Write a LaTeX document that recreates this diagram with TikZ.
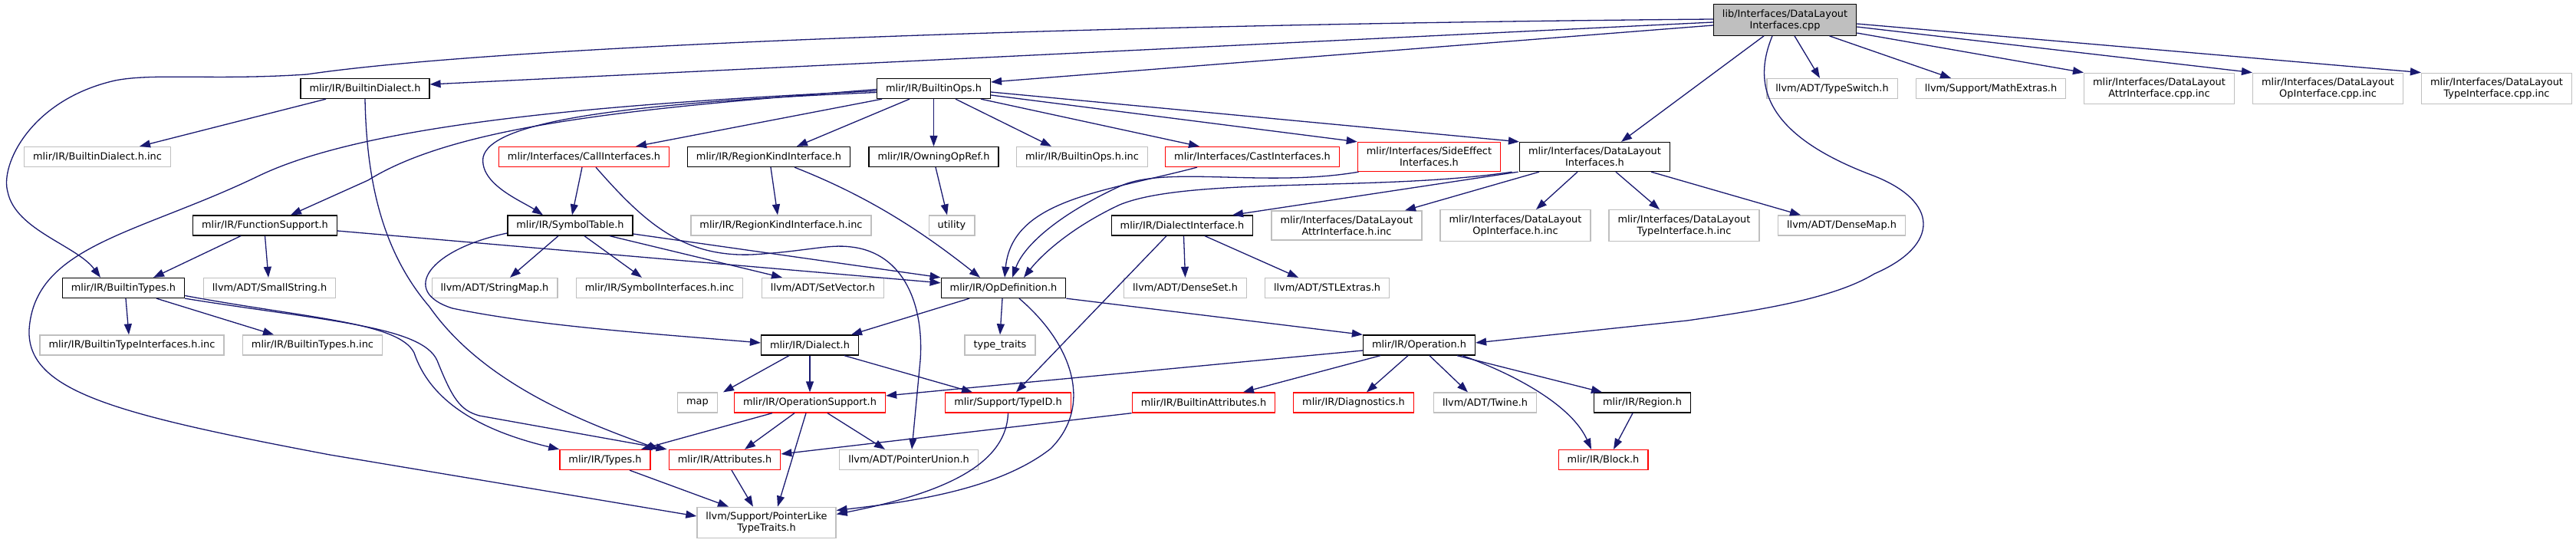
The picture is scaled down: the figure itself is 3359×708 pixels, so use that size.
\documentclass[tikz,border=0pt]{standalone}
\usepackage{fontspec}
\setmainfont{DejaVu Sans}
\usepackage{xcolor}
\usepackage{tikz}
\usetikzlibrary{calc, arrows.meta, positioning}
\definecolor{edgeblue}{HTML}{191970}
\definecolor{greyline}{HTML}{BFBFBF}
\tikzset{
  hfile/.style={rectangle,draw=black,fill=white,line width=1.3pt,inner xsep=11.5pt,inner ysep=6.5pt,minimum height=26pt,align=center,font=\fontsize{12.9}{15}\selectfont},
  extfile/.style={hfile,draw=greyline},
  cutfile/.style={hfile,draw=red},
  rootfile/.style={hfile,fill=greyline},
  incarrow/.style={-{Triangle[length=14pt,width=10pt]}, line width=1.3pt, color=edgeblue}
}

\begin{document}
\begin{tikzpicture}[x=1pt,y=-1pt]
  \useasboundingbox (0,0) rectangle (3359,708);
  % files
  \node[rootfile] (root) at (2327.5,26) {lib/Interfaces/DataLayout\\Interfaces.cpp};
  \node[hfile] (bdialect) at (476,115.5) {mlir/IR/BuiltinDialect.h};
  \node[hfile] (bops) at (1217.5,115.5) {mlir/IR/BuiltinOps.h};
  \node[extfile] (typeswitch) at (2389,115.5) {llvm/ADT/TypeSwitch.h};
  \node[extfile] (mathextras) at (2596,115.5) {llvm/Support/MathExtras.h};
  \node[extfile] (attrcppinc) at (2815.5,115.5) {mlir/Interfaces/DataLayout\\AttrInterface.cpp.inc};
  \node[extfile] (opcppinc) at (3035.5,115.5) {mlir/Interfaces/DataLayout\\OpInterface.cpp.inc};
  \node[extfile] (typecppinc) at (3255.5,115.5) {mlir/Interfaces/DataLayout\\TypeInterface.cpp.inc};

  \node[extfile] (bdialectinc) at (127,204.5) {mlir/IR/BuiltinDialect.h.inc};
  \node[cutfile] (callif) at (761.5,204.5) {mlir/Interfaces/CallInterfaces.h};
  \node[hfile] (regionkind) at (1002.5,204.5) {mlir/IR/RegionKindInterface.h};
  \node[hfile] (owningop) at (1217.5,204.5) {mlir/IR/OwningOpRef.h};
  \node[extfile] (bopsinc) at (1411,204.5) {mlir/IR/BuiltinOps.h.inc};
  \node[cutfile] (castif) at (1633,204.5) {mlir/Interfaces/CastInterfaces.h};
  \node[cutfile] (sideeff) at (1863.5,204.5) {mlir/Interfaces/SideEffect\\Interfaces.h};
  \node[hfile] (dlif) at (2079.5,204.5) {mlir/Interfaces/DataLayout\\Interfaces.h};

  \node[hfile] (funcsup) at (345.5,294) {mlir/IR/FunctionSupport.h};
  \node[hfile] (symtab) at (743.5,294) {mlir/IR/SymbolTable.h};
  \node[extfile] (regionkindinc) at (1018.5,294) {mlir/IR/RegionKindInterface.h.inc};
  \node[extfile] (utility) at (1241,294) {utility};
  \node[hfile] (dialectif) at (1541.5,294) {mlir/IR/DialectInterface.h};
  \node[extfile] (attrhinc) at (1756,294) {mlir/Interfaces/DataLayout\\AttrInterface.h.inc};
  \node[extfile] (ophinc) at (1976,294) {mlir/Interfaces/DataLayout\\OpInterface.h.inc};
  \node[extfile] (typehinc) at (2196,294) {mlir/Interfaces/DataLayout\\TypeInterface.h.inc};
  \node[extfile] (densemap) at (2401.5,294) {llvm/ADT/DenseMap.h};

  \node[hfile] (btypes) at (161,375.5) {mlir/IR/BuiltinTypes.h};
  \node[extfile] (smallstr) at (351.5,375.5) {llvm/ADT/SmallString.h};
  \node[extfile] (stringmap) at (645,375.5) {llvm/ADT/StringMap.h};
  \node[extfile] (syminc) at (860,375.5) {mlir/IR/SymbolInterfaces.h.inc};
  \node[extfile] (setvector) at (1073,375.5) {llvm/ADT/SetVector.h};
  \node[hfile] (opdef) at (1308.5,375.5) {mlir/IR/OpDefinition.h};
  \node[extfile] (denseset) at (1545.5,375.5) {llvm/ADT/DenseSet.h};
  \node[extfile] (stlextras) at (1730.5,375.5) {llvm/ADT/STLExtras.h};

  \node[extfile] (btypeifinc) at (172,450) {mlir/IR/BuiltinTypeInterfaces.h.inc};
  \node[extfile] (btypesinc) at (407.5,450) {mlir/IR/BuiltinTypes.h.inc};
  \node[hfile] (dialect) at (1056,450) {mlir/IR/Dialect.h};
  \node[extfile] (typetraits) at (1304,450) {type\_traits};
  \node[hfile] (operation) at (1850.5,450) {mlir/IR/Operation.h};

  \node[extfile] (map) at (909.5,525) {map};
  \node[cutfile] (opsupport) at (1056,525) {mlir/IR/OperationSupport.h};
  \node[cutfile] (typeid) at (1314.5,525) {mlir/Support/TypeID.h};
  \node[cutfile] (battrs) at (1569.5,525) {mlir/IR/BuiltinAttributes.h};
  \node[cutfile] (diag) at (1765,525) {mlir/IR/Diagnostics.h};
  \node[extfile] (twine) at (1936.5,525) {llvm/ADT/Twine.h};
  \node[hfile] (region) at (2141.5,525) {mlir/IR/Region.h};

  \node[cutfile] (types) at (789,599.5) {mlir/IR/Types.h};
  \node[cutfile] (attrs) at (945,599.5) {mlir/IR/Attributes.h};
  \node[extfile] (ptrunion) at (1185,599.5) {llvm/ADT/PointerUnion.h};
  \node[cutfile] (block) at (2090.5,599.5) {mlir/IR/Block.h};

  \node[extfile] (ptrlike) at (999.5,681.5) {llvm/Support/PointerLike\\TypeTraits.h};

  % includes of the .cpp
  \draw[incarrow] ([yshift=1]root.west) .. controls (1400,32) and (650,60) .. (400,97) .. controls (280,105) and (200,95) .. (150,105) .. controls (40,130) and (0,215) .. (10,250) .. controls (20,300) and (100,320) .. ([xshift=-30]btypes.north);
  \draw[incarrow] ([yshift=-3]root.west) -- ([yshift=5.5]bdialect.east);
  \draw[incarrow] ([yshift=-7]root.west) -- ([yshift=8.5]bops.east);
  \draw[incarrow] ([xshift=-27.5]root.south) -- ([xshift=34.5]dlif.north);
  \draw[incarrow] ([xshift=-16.5]root.south) .. controls (2285,110) and (2300,175) .. (2440,228) .. controls (2530,262) and (2530,320) .. (2444,357) .. controls (2390,390) and (2290,405) .. (2200,418) -- ([yshift=3]operation.east);
  \draw[incarrow] ([xshift=12.5]root.south) -- ([xshift=-16]typeswitch.north);
  \draw[incarrow] ([xshift=58]root.south) -- ([xshift=-52]mathextras.north);
  \draw[incarrow] ([yshift=-17]root.east) -- (attrcppinc.north west);
  \draw[incarrow] ([yshift=-9]root.east) -- (opcppinc.north west);
  \draw[incarrow] ([yshift=-5]root.east) -- (typecppinc.north west);

  % BuiltinDialect.h
  \draw[incarrow] ([xshift=-51]bdialect.south) -- ([xshift=55]bdialectinc.north);
  \draw[incarrow] (bdialect.south) .. controls (478,240) and (500,330) .. (560,400) .. controls (630,500) and (760,550) .. ([xshift=-12]attrs.north west);

  % BuiltinOps.h
  \draw[incarrow] ([yshift=-1]bops.west) .. controls (850,140) and (600,160) .. (480,235) -- ([xshift=33.5]funcsup.north);
  \draw[incarrow] ([yshift=-3]bops.west) .. controls (800,135) and (480,160) .. (336,230) .. controls (180,305) and (45,320) .. (38,430) .. controls (35,510) and (150,540) .. (430,593) -- ([yshift=8.5]ptrlike.west);
  \draw[incarrow] ([yshift=-5]bops.west) .. controls (800,135) and (640,160) .. (630,205) .. controls (625,240) and (680,262) .. ([xshift=-35.5]symtab.north);
  \draw[incarrow] ([xshift=-67.5]bops.south) -- ([xshift=67.5]callif.north);
  \draw[incarrow] ([xshift=-31.5]bops.south) -- ([xshift=36.5]regionkind.north);
  \draw[incarrow] (bops.south) -- (owningop.north);
  \draw[incarrow] ([xshift=28.5]bops.south) -- ([xshift=-40]bopsinc.north);
  \draw[incarrow] ([xshift=61.5]bops.south) -- ([xshift=-69]castif.north);
  \draw[incarrow] ([yshift=-8.5]bops.east) -- (sideeff.north west);
  \draw[incarrow] ([yshift=-4.5]bops.east) -- (dlif.north west);

  % interfaces
  \draw[incarrow] ([xshift=-2.5]callif.south) -- ([xshift=2.5]symtab.north);
  \draw[incarrow] ([xshift=15.5]callif.south) .. controls (840,290) and (890,335) .. (980,332) .. controls (1050,328) and (1080,318) .. (1110,322) .. controls (1180,330) and (1205,400) .. (1200,470) -- ([xshift=4]ptrunion.north);
  \draw[incarrow] ([xshift=2.5]regionkind.south) -- ([xshift=-4.5]regionkindinc.north);
  \draw[incarrow] ([xshift=33.5]regionkind.south) .. controls (1130,255) and (1200,300) .. ([xshift=-30.5]opdef.north);
  \draw[incarrow] ([xshift=2.5]owningop.south) -- ([xshift=-6]utility.north);
  \draw[incarrow] ([xshift=-72]castif.south) .. controls (1440,250) and (1320,260) .. ([xshift=1.5]opdef.north);
  \draw[incarrow] ([xshift=-92]sideeff.south) .. controls (1650,245) and (1520,215) .. (1460,243) .. controls (1380,280) and (1335,320) .. ([xshift=11.5]opdef.north);
  \draw[incarrow] ([xshift=-108]dlif.south) .. controls (1800,250) and (1550,230) .. (1460,267) .. controls (1400,295) and (1360,330) .. ([xshift=26.5]opdef.north);
  \draw[incarrow] ([xshift=-100]dlif.south) -- ([xshift=65.5]dialectif.north);
  \draw[incarrow] ([xshift=-72.5]dlif.south) -- ([xshift=76]attrhinc.north);
  \draw[incarrow] ([xshift=-22.5]dlif.south) -- ([xshift=27]ophinc.north);
  \draw[incarrow] ([xshift=27.5]dlif.south) -- ([xshift=-32]typehinc.north);
  \draw[incarrow] ([xshift=73.5]dlif.south) -- ([xshift=-53.5]densemap.north);

  % FunctionSupport.h, SymbolTable.h
  \draw[incarrow] ([xshift=-31.5]funcsup.south) -- ([xshift=39]btypes.north);
  \draw[incarrow] (funcsup.south) -- ([xshift=-1.5]smallstr.north);
  \draw[incarrow] ([yshift=-7]funcsup.east) -- ([yshift=-7]opdef.north west);
  \draw[incarrow] ([xshift=-15.5]symtab.south) -- ([xshift=20]stringmap.north);
  \draw[incarrow] ([xshift=18.5]symtab.south) -- ([xshift=-23]syminc.north);
  \draw[incarrow] ([xshift=51.5]symtab.south) -- ([xshift=-53]setvector.north);
  \draw[incarrow] ([yshift=-11]symtab.east) -- (opdef.north west);
  \draw[incarrow] ([yshift=-10]symtab.west) .. controls (560,325) and (520,380) .. (590,402) .. controls (700,425) and (850,435) .. ([yshift=3]dialect.west);

  % DialectInterface.h, OpDefinition.h, Dialect.h
  \draw[incarrow] ([xshift=-20.5]dialectif.south) -- ([xshift=10.5]typeid.north);
  \draw[incarrow] ([xshift=2]dialectif.south) -- (denseset.north);
  \draw[incarrow] ([xshift=29.5]dialectif.south) -- ([xshift=-37.5]stlextras.north);
  \draw[incarrow] ([xshift=-44.5]opdef.south) -- ([xshift=54]dialect.north);
  \draw[incarrow] ([xshift=-1.5]opdef.south) -- (typetraits.north);
  \draw[incarrow] ([xshift=20.5]opdef.south) .. controls (1400,450) and (1425,530) .. (1370,585) .. controls (1300,640) and (1180,655) .. ([yshift=16]ptrlike.east);
  \draw[incarrow] (opdef.south east) -- (operation.north west);
  \draw[incarrow] ([xshift=-27]dialect.south) -- ([xshift=33.5]map.north);
  \draw[incarrow] (dialect.south) -- (opsupport.north);
  \draw[incarrow] ([xshift=45]dialect.south) -- ([xshift=-46.5]typeid.north);

  % Operation.h
  \draw[incarrow] ([yshift=-7]operation.west) -- ([yshift=9]opsupport.east);
  \draw[incarrow] ([xshift=-50.5]operation.south) -- ([xshift=51.5]battrs.north);
  \draw[incarrow] ([xshift=-14.5]operation.south) -- ([xshift=17]diag.north);
  \draw[incarrow] ([xshift=13.5]operation.south) -- ([xshift=-22.5]twine.north);
  \draw[incarrow] ([xshift=49.5]operation.south) -- ([xshift=-52.5]region.north);
  \draw[incarrow] ([xshift=56.5]operation.south) .. controls (1980,490) and (2050,530) .. ([xshift=-15.5]block.north);
  \draw[incarrow] ([xshift=-12.5]region.south) -- ([xshift=13.5]block.north);
  \draw[incarrow] (battrs.south west) -- ([yshift=7.5]attrs.east);

  % OperationSupport.h, TypeID.h
  \draw[incarrow] ([xshift=-49]opsupport.south) -- ([xshift=47]types.north);
  \draw[incarrow] ([xshift=-20]opsupport.south) -- ([xshift=26]attrs.north);
  \draw[incarrow] ([xshift=-5]opsupport.south) -- ([xshift=14.5]ptrlike.north);
  \draw[incarrow] ([xshift=23]opsupport.south) -- ([xshift=-31]ptrunion.north);
  \draw[incarrow] (typeid.south) .. controls (1312,610) and (1220,645) .. ([yshift=11]ptrlike.east);

  % BuiltinTypes.h, Types.h, Attributes.h
  \draw[incarrow] ([xshift=3]btypes.south) -- ([xshift=-4]btypeifinc.north);
  \draw[incarrow] ([xshift=43]btypes.south) -- ([xshift=-50.5]btypesinc.north);
  \draw[incarrow] ([yshift=-10]btypes.east) .. controls (400,415) and (520,420) .. (540,460) .. controls (560,520) and (620,560) .. (types.north west);
  \draw[incarrow] (btypes.south east) .. controls (420,418) and (550,425) .. (570,470) .. controls (590,520) and (600,535) .. (625,542) -- ([xshift=-2]attrs.north west);
  \draw[incarrow] ([xshift=32]types.south) -- ([xshift=-49.5]ptrlike.north);
  \draw[incarrow] ([xshift=9]attrs.south) -- ([xshift=-17.5]ptrlike.north);
\end{tikzpicture}
\end{document}
